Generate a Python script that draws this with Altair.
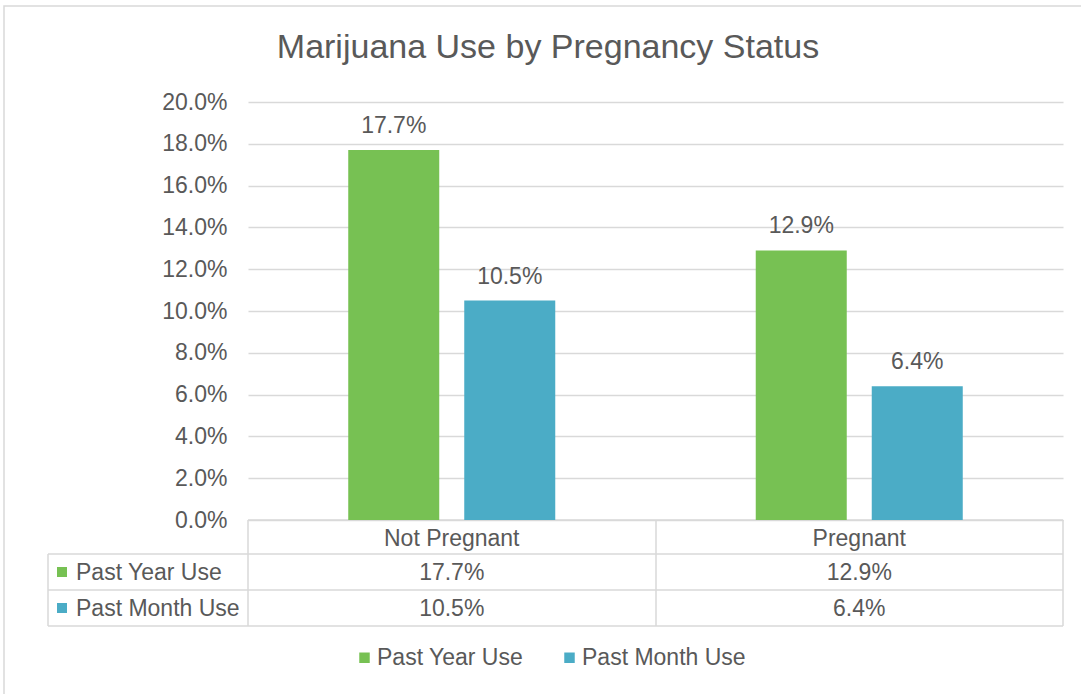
import altair as alt
import pandas as pd

# ---- data ----
categories = ["Not Pregnant", "Pregnant"]
series_names = ["Past Year Use", "Past Month Use"]
past_year = [0.177, 0.129]
past_month = [0.105, 0.064]
y_ticks = [0.0, 0.02, 0.04, 0.06, 0.08, 0.10, 0.12, 0.14, 0.16, 0.18, 0.20]
colors = ["#77C153", "#4BACC6"]
title_text = "Marijuana Use by Pregnancy Status"

rows = []
for i, c in enumerate(categories):
    rows.append({"category": c, "series": series_names[0], "value": past_year[i]})
    rows.append({"category": c, "series": series_names[1], "value": past_month[i]})
df = pd.DataFrame(rows)
one = pd.DataFrame({"k": [0]})

FONT = "Liberation Sans"
TXT = "#595959"
LINE = "#d9d9d9"
FS = 23

x_enc = alt.X("category:N", sort=categories,
              scale=alt.Scale(domain=categories, paddingInner=0.492, paddingOuter=0.246),
              axis=None)
xoff_enc = alt.XOffset("series:N", sort=series_names,
                       scale=alt.Scale(domain=series_names, paddingInner=0.2155, paddingOuter=0))
y_axis = alt.Axis(values=y_ticks, format=".1%", title=None, domain=False, ticks=False,
                  tickSize=0, labelPadding=21, labelFontSize=FS, labelFont=FONT,
                  labelColor=TXT, grid=True, gridColor=LINE, gridWidth=1.5)
y_enc = alt.Y("value:Q", scale=alt.Scale(domain=[0, 0.2], nice=False, zero=True), axis=y_axis)
color_enc = alt.Color("series:N", sort=series_names,
                      scale=alt.Scale(domain=series_names, range=colors),
                      legend=alt.Legend(orient="none", legendX=105, legendY=544,
                                        direction="horizontal", title=None,
                                        symbolType="square", symbolSize=110,
                                        symbolStrokeWidth=0, labelFontSize=FS,
                                        labelFont=FONT, labelColor=TXT, labelOffset=1,
                                        labelLimit=400, columnPadding=34, padding=0))

base = alt.Chart(df)

# outer border
border = alt.Chart(one).mark_rect(fill="white", fillOpacity=0, stroke=LINE, strokeWidth=1.5).encode(
    x=alt.value(-244), x2=alt.value(900), y=alt.value(-96), y2=alt.value(700))

# title
title = alt.Chart(one).mark_text(text=title_text, font=FONT, fontSize=34, color=TXT,
                                 align="center", baseline="alphabetic").encode(
    x=alt.value(300), y=alt.value(-44))

bars = base.mark_bar().encode(x=x_enc, xOffset=xoff_enc, y=y_enc, color=color_enc)

labels = base.mark_text(font=FONT, fontSize=FS, color=TXT, baseline="alphabetic", dy=-17).encode(
    x=x_enc, xOffset=xoff_enc, y=y_enc, text=alt.Text("value:Q", format=".1%"))

# data table
def hline(y, x0, x1):
    return alt.Chart(one).mark_rule(color=LINE, strokeWidth=1.5).encode(
        x=alt.value(x0), x2=alt.value(x1), y=alt.value(y))

def vline(x, y0, y1):
    return alt.Chart(one).mark_rule(color=LINE, strokeWidth=1.5).encode(
        x=alt.value(x), y=alt.value(y0), y2=alt.value(y1))

rules = [
    hline(418, 0, 815),
    hline(452, -200, 815),
    hline(488, -200, 815),
    hline(524, -200, 815),
    vline(-200, 452, 524),
    vline(0, 418, 524),
    vline(408, 418, 524),
    vline(815, 418, 524),
]

cat_labels = base.transform_filter(alt.datum.series == series_names[0]).mark_text(
    font=FONT, fontSize=FS, color=TXT, baseline="alphabetic").encode(
    x=x_enc, y=alt.value(444), text="category:N")

row_y = [478, 514]
row_sq = [470, 506]
table_vals = []
for i, s in enumerate(series_names):
    sub = base.transform_filter(alt.datum.series == s)
    table_vals.append(sub.mark_text(font=FONT, fontSize=FS, color=TXT, baseline="alphabetic").encode(
        x=x_enc, y=alt.value(row_y[i]), text=alt.Text("value:Q", format=".1%")))
    table_vals.append(sub.transform_filter(alt.datum.category == categories[0]).mark_rect().encode(
        x=alt.value(-191), x2=alt.value(-181), y=alt.value(row_sq[i] - 5), y2=alt.value(row_sq[i] + 5),
        color=alt.Color("series:N", scale=alt.Scale(domain=series_names, range=colors), legend=None)))
    table_vals.append(sub.transform_filter(alt.datum.category == categories[0]).mark_text(
        font=FONT, fontSize=FS, color=TXT, baseline="alphabetic", align="left").encode(
        x=alt.value(-172), y=alt.value(row_y[i]), text="series:N"))

chart = alt.layer(border, *rules, bars, labels, cat_labels, *table_vals, title).properties(
    width=815, height=418,
    padding={"left": 248, "top": 102, "right": 18, "bottom": 174},
    autosize=alt.AutoSizeParams(type="none"),
    background="white",
).configure_view(stroke=None)

chart.save("out.html", embed_options={"renderer": "svg", "actions": False})
